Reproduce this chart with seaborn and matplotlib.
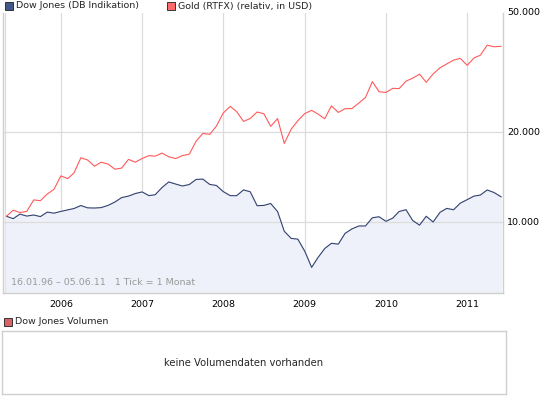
import pandas as pd
import seaborn as sns
import matplotlib.pyplot as plt
import matplotlib.dates as mdates
from matplotlib.patches import Rectangle
from matplotlib.ticker import FixedLocator, FixedFormatter

# monthly points (plotted at month start), last point is 03.06.2011
dates = list(pd.date_range('2005-05-01', '2011-05-01', freq='MS')) + [pd.Timestamp('2011-06-03')]

dow = [10467, 10275, 10641, 10482, 10569, 10440, 10806, 10718,
       10865, 10993, 11109, 11367, 11168, 11150, 11186, 11381, 11679, 12081, 12222, 12463,
       12622, 12269, 12354, 13063, 13628, 13409, 13212, 13358, 13896, 13930, 13372, 13265,
       12650, 12266, 12263, 12820, 12638, 11350, 11378, 11544, 10851, 9325, 8829, 8776,
       8001, 7063, 7609, 8168, 8500, 8447, 9172, 9496, 9712, 9713, 10345, 10428,
       10067, 10325, 10857, 11009, 10137, 9774, 10466, 10015, 10788, 11118, 11006, 11578,
       11892, 12226, 12320, 12811, 12570, 12151]

gold_usd = [417, 437, 429, 433, 473, 470, 495, 513,
            569, 557, 582, 654, 643, 613, 632, 623, 599, 604, 646, 632,
            650, 665, 662, 678, 659, 650, 665, 672, 743, 789, 783, 834,
            923, 971, 933, 865, 885, 930, 918, 833, 884, 730, 815, 870,
            919, 942, 916, 883, 975, 927, 954, 955, 996, 1040, 1175, 1087,
            1081, 1116, 1113, 1179, 1207, 1244, 1169, 1246, 1307, 1346, 1386, 1405,
            1332, 1410, 1439, 1556, 1536, 1542]

year_ticks = ['2006', '2007', '2008', '2009', '2010', '2011']
y_ticks = [10000, 20000, 50000]
y_labels = ['10.000', '20.000', '50.000']

df = pd.DataFrame({'date': dates, 'dow': dow, 'gold_usd': gold_usd})
# gold shown relative to the Dow start value
df['gold'] = df['gold_usd'] / df['gold_usd'].iloc[0] * df['dow'].iloc[0]

sns.set_style('white')
plt.rcParams['font.family'] = ['DejaVu Sans']

W, H = 545, 398
fig = plt.figure(figsize=(W / 100, H / 100), dpi=100)
fs = 6.8
grid_c = '#dcdcdc'
frame_c = '#cfcfcf'

ax = fig.add_axes([3 / W, (H - 293) / H, 500 / W, 280 / H])
ax.fill_between(df['date'], df['dow'], 1, color='#eef1f9', zorder=1)
sns.lineplot(data=df, x='date', y='dow', ax=ax, color='#33436e', linewidth=0.8, zorder=3)
sns.lineplot(data=df, x='date', y='gold', ax=ax, color='#ff5a5a', linewidth=0.8, zorder=3)

ax.set_yscale('log')
ax.set_ylim(5800, 50000)
ax.set_xlim(pd.Timestamp('2005-04-16'), pd.Timestamp('2011-06-11'))
ax.set_xlabel('')
ax.set_ylabel('')

ax.xaxis.set_major_locator(mdates.YearLocator())
ax.xaxis.set_major_formatter(mdates.DateFormatter('%Y'))
ax.yaxis.tick_right()
ax.yaxis.set_major_locator(FixedLocator(y_ticks))
ax.yaxis.set_major_formatter(FixedFormatter(y_labels))
ax.yaxis.set_minor_locator(FixedLocator([]))
ax.tick_params(axis='both', length=0, labelsize=fs, colors='black')
ax.tick_params(axis='x', pad=5)
ax.tick_params(axis='y', pad=3)
for lab in ax.get_yticklabels():
    lab.set_verticalalignment('center')
ax.grid(True, color=grid_c, linewidth=0.9, zorder=0)
ax.set_axisbelow(True)
ax.axvline(pd.Timestamp('2005-04-25'), color=grid_c, linewidth=0.9, zorder=0)
ax.yaxis.grid(False)
for v in y_ticks[:2]:
    ax.axhline(v, color=grid_c, linewidth=0.9, zorder=2)
for name, s in ax.spines.items():
    s.set_color(frame_c)
    s.set_linewidth(1)
ax.spines['top'].set_visible(False)

ax.text(8 / 500, 6 / 280, '16.01.96 \u2013 05.06.11   1 Tick = 1 Monat', transform=ax.transAxes,
        fontsize=fs, color='#9a9a9a', va='bottom', ha='left', zorder=4)

# top legend
def legend_item(x, y, label, face):
    fig.patches.append(Rectangle((x / W, (H - y - 4) / H), 8 / W, 8 / H, transform=fig.transFigure,
                                 facecolor=face, edgecolor='#333333', linewidth=0.7))
    fig.text((x + 11) / W, (H - y) / H, label, fontsize=fs, va='center', ha='left')

legend_item(5, 6, 'Dow Jones (DB Indikation)', '#40598a')
legend_item(167, 6, 'Gold (RTFX) (relativ, in USD)', '#ff6a6a')
legend_item(4, 322, 'Dow Jones Volumen', '#d86464')

# empty volume panel
ax2 = fig.add_axes([2 / W, (H - 394) / H, 504 / W, 63 / H])
ax2.set_xticks([])
ax2.set_yticks([])
for s in ax2.spines.values():
    s.set_color(frame_c)
    s.set_linewidth(1)
ax2.text(0.48, 0.5, 'keine Volumendaten vorhanden', transform=ax2.transAxes,
         fontsize=fs + 0.4, ha='center', va='center')

fig.savefig('out.png', dpi=100)
